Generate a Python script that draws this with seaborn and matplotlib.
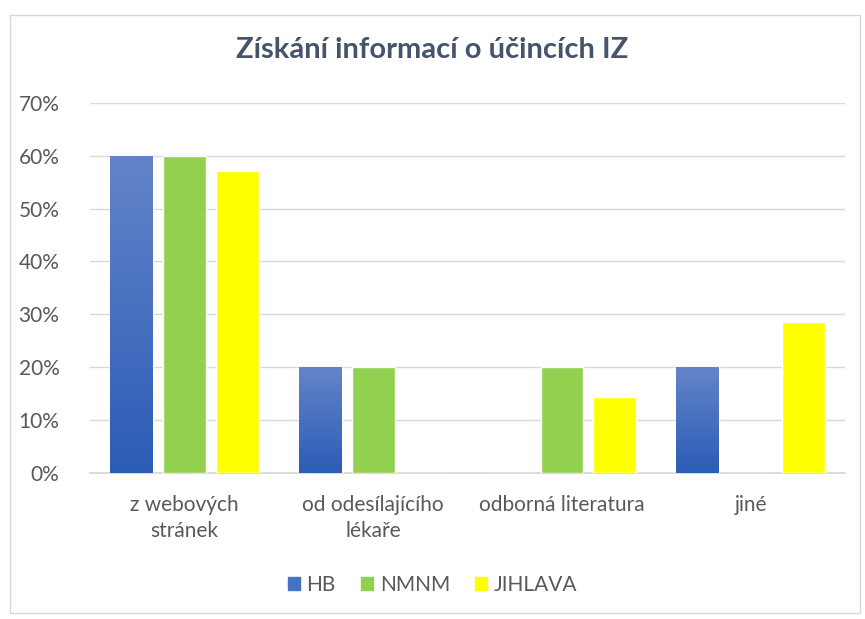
import numpy as np
import pandas as pd
import matplotlib.pyplot as plt
import matplotlib.patches as mpatches
from matplotlib.colors import LinearSegmentedColormap
import seaborn as sns

# data
categories = ["z webových\nstránek", "od odesílajícího\nlékaře", "odborná literatura", "jiné"]
hb = [0.60, 0.20, 0.0, 0.20]
nmnm = [0.60, 0.20, 0.20, 0.0]
jihlava = [0.5714, 0.0, 0.1429, 0.2857]
series = ["HB", "NMNM", "JIHLAVA"]
colors = ["#4472c4", "#92d050", "#ffff00"]

df = pd.DataFrame({
    "kategorie": categories * 3,
    "zdroj": [s for s in series for _ in categories],
    "podil": hb + nmnm + jihlava,
})

sns.set_theme(style="white")
plt.rcParams['font.family'] = ['Lato', 'DejaVu Sans']

fig = plt.figure(figsize=(8.65, 6.19), dpi=100)
ax = fig.add_axes([0.104, 0.236, 0.873, 0.598])

sns.barplot(data=df, x="kategorie", y="podil", hue="zdroj", order=categories,
            hue_order=series, palette=colors, width=0.84, gap=0.19,
            saturation=1, legend=True, ax=ax, zorder=3)

# gradient fill on the HB bars
grad = LinearSegmentedColormap.from_list("hb", ["#2c5cb6", "#6384c9"])
for p in ax.patches[:len(categories)]:
    x0, y0 = p.get_x(), p.get_y()
    w, h = p.get_width(), p.get_height()
    if h <= 0:
        continue
    im = ax.imshow(np.linspace(0, 1, 100).reshape(-1, 1), cmap=grad, origin="lower",
                   extent=(x0, x0 + w, y0, y0 + h), aspect="auto", zorder=3.5)
    im.set_clip_path(p)

ax.set_xlim(-0.5, len(categories) - 0.5)
ax.set_ylim(0, 0.7)
ax.set_yticks(np.arange(0, 0.71, 0.1))
ax.set_yticklabels([f"{int(round(v * 100))}%" for v in np.arange(0, 0.71, 0.1)])
ax.yaxis.grid(True, color="#d9d9d9", linewidth=1, zorder=0)
ax.set_axisbelow(True)
for s in ["top", "right", "left"]:
    ax.spines[s].set_visible(False)
ax.spines["bottom"].set_color("#d9d9d9")
ax.tick_params(axis="both", length=0, labelsize=15, labelcolor="#595959")
ax.tick_params(axis="x", pad=16)
ax.tick_params(axis="y", pad=22)
for t in ax.get_xticklabels():
    t.set_multialignment("center")
    t.set_linespacing(1.35)
ax.set_xlabel("")
ax.set_ylabel("")

ax.get_legend().remove()
handles = [mpatches.Patch(color=c) for c in colors]
fig.legend(handles, series, loc="center", bbox_to_anchor=(0.5, 0.055), ncol=3,
           frameon=False, fontsize=15, labelcolor="#595959", handlelength=0.6,
           handleheight=0.6, handletextpad=0.3, columnspacing=1.2)

fig.suptitle("Získání informací o účincích IZ", x=0.5, y=0.94, fontsize=21,
             fontweight="bold", color="#44546a")

# chart border
fig.patches.append(mpatches.Rectangle((0.011, 0.01), 0.983, 0.965, transform=fig.transFigure,
                                      fill=False, edgecolor="#d9d9d9", linewidth=1))

fig.savefig("out.png", dpi=100)
